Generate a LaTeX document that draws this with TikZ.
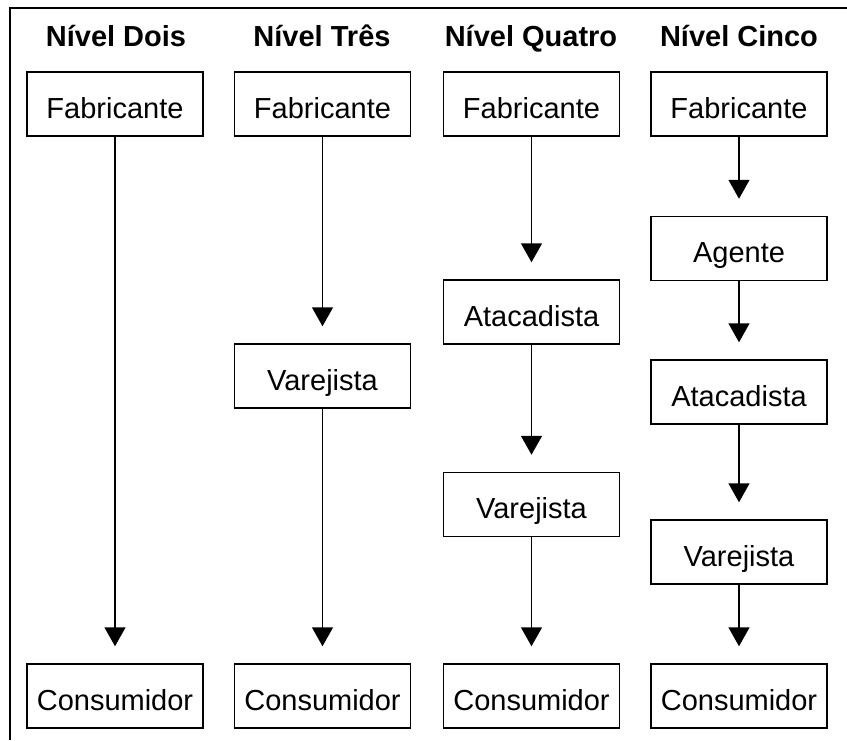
\documentclass[tikz,border=0pt]{standalone}
\usepackage{fontspec}
\setmainfont{Liberation Sans}
\usepackage{tikz}
\usetikzlibrary{
    arrows.meta,
    positioning
}

\begin{document}
\begin{tikzpicture}[x=1pt, y=-1pt,
    caixa/.style={draw, line width=1.5pt, minimum width=176pt, minimum height=64pt,
        inner sep=0pt, text height=28pt, text depth=0pt, font=\fontsize{29}{34}\selectfont},
    titulo/.style={anchor=base, font=\fontsize{29}{34}\selectfont\bfseries},
    >={Triangle[width=21pt, length=19pt]}]
                        \useasboundingbox (0, 0) rectangle (847, 740);
                        \draw[line width=1.5pt] (847, 8) -- (10, 8) -- (10, 740);

                        \node[titulo] (t2) at (116, 46) {Nível Dois};
                        \node[titulo] (t3) at (322, 46) {Nível Três};
                        \node[titulo] (t4) at (531, 46) {Nível Quatro};
                        \node[titulo] (t5) at (739, 46) {Nível Cinco};

                        \node[caixa] (fab2) at (115, 104) {Fabricante};
                        \node[caixa] (con2) at (115, 696) {Consumidor};

                        \node[caixa] (fab3) at (322.5, 104) {Fabricante};
                        \node[caixa] (var3) at (322.5, 376) {Varejista};
                        \node[caixa] (con3) at (322.5, 696) {Consumidor};

                        \node[caixa] (fab4) at (531.5, 104) {Fabricante};
                        \node[caixa] (ata4) at (531.5, 312) {Atacadista};
                        \node[caixa] (var4) at (531.5, 504.5) {Varejista};
                        \node[caixa] (con4) at (531.5, 696) {Consumidor};

                        \node[caixa] (fab5) at (739, 104) {Fabricante};
                        \node[caixa] (age5) at (739, 248.5) {Agente};
                        \node[caixa] (ata5) at (739, 392) {Atacadista};
                        \node[caixa] (var5) at (739, 552) {Varejista};
                        \node[caixa] (con5) at (739, 696) {Consumidor};

                        \draw[line width=1.5pt, shorten >=17pt]
                        (fab2) edge[->] (con2)
                        (fab3) edge[->] (var3)
                        (var3) edge[->] (con3)
                        (fab4) edge[->] (ata4)
                        (ata4) edge[->] (var4)
                        (var4) edge[->] (con4)
                        (fab5) edge[->] (age5)
                        (age5) edge[->] (ata5)
                        (ata5) edge[->] (var5)
                        (var5) edge[->] (con5);
                    \end{tikzpicture}
\end{document}
